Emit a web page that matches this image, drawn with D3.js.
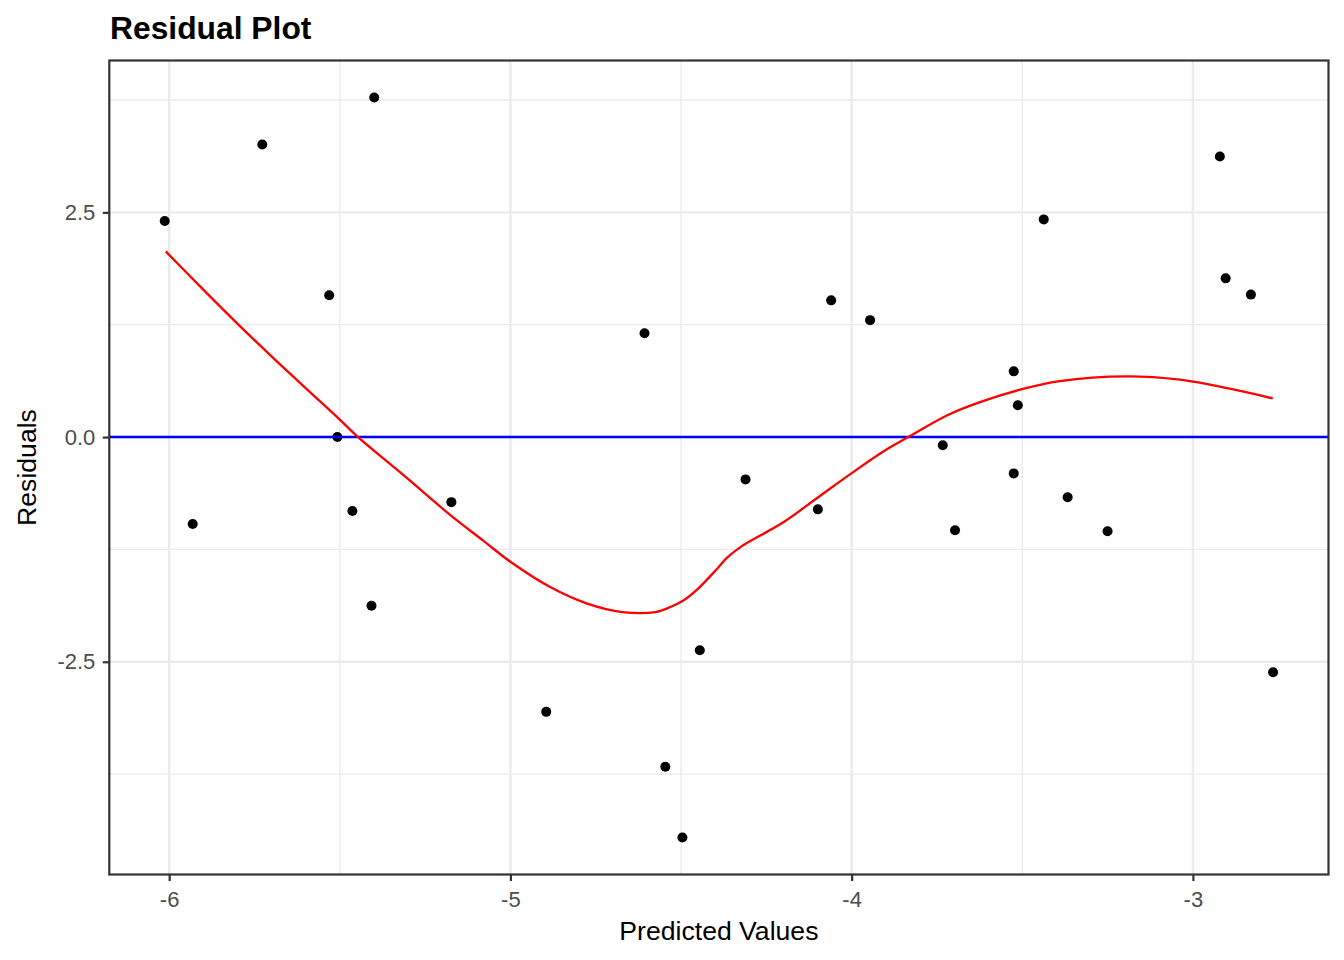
<!DOCTYPE html>
<html>
<head>
<meta charset="utf-8">
<script src="https://cdn.jsdelivr.net/npm/d3@7/dist/d3.min.js"></script>
<style>
  html, body { margin: 0; padding: 0; background: #fff; }
  svg { display: block; font-family: "Liberation Sans", Arial, sans-serif; }
</style>
</head>
<body>
<svg id="chart" width="1344" height="960"></svg>
<script>
// Predicted values (x) and residuals (y) of the points
const predicted = [-6.013, -5.931, -5.727, -5.531, -5.507, -5.463, -5.407, -5.399, -5.173, -4.895,
                   -4.607, -4.546, -4.496, -4.445, -4.311, -4.099, -4.060, -3.946, -3.733, -3.697,
                   -3.525, -3.525, -3.513, -3.437, -3.367, -3.250, -2.921, -2.904, -2.830, -2.765];
const residuals = [2.403, -0.967, 3.255, 1.578, 0.000, -0.823, -1.877, 3.778, -0.724, -3.057,
                   1.156, -3.668, -4.455, -2.372, -0.471, -0.804, 1.521, 1.301, -0.091, -1.036,
                   0.731, -0.404, 0.354, 2.422, -0.669, -1.048, 3.121, 1.766, 1.585, -2.616];

// Loess smoother
const smoothX = [-6.010, -5.900, -5.800, -5.700, -5.600, -5.500, -5.448, -5.301, -5.175,
                 -5.077, -4.999, -4.882, -4.775, -4.672, -4.575, -4.531, -4.492, -4.453, -4.394,
                 -4.365, -4.326, -4.199, -4.102, -4.004, -3.907, -3.834, -3.721, -3.624, -3.507,
                 -3.390, -3.194, -3.038, -2.892, -2.766];
const smoothY = [2.066, 1.640, 1.262, 0.898, 0.545, 0.195, 0.005, -0.463, -0.871,
                 -1.160, -1.390, -1.672, -1.853, -1.947, -1.947, -1.891, -1.816, -1.698, -1.464,
                 -1.342, -1.224, -0.945, -0.680, -0.412, -0.160, 0.000, 0.241, 0.389, 0.527,
                 0.623, 0.675, 0.638, 0.538, 0.430];

const xTicks = [-6, -5, -4, -3];
const xMinor = [-5.5, -4.5, -3.5];
const yTicks = [-2.5, 0, 2.5];
const yMinor = [-3.75, -1.25, 1.25, 3.75];
const xTickLabels = ["-6", "-5", "-4", "-3"];
const yTickLabels = ["-2.5", "0.0", "2.5"];

const titleText = "Residual Plot";
const xTitle = "Predicted Values";
const yTitle = "Residuals";

const W = 1344, H = 960;
const panel = { left: 109.3, right: 1328.5, top: 60.5, bottom: 874.5 };

function expand(ext, f) { const d = (ext[1] - ext[0]) * f; return [ext[0] - d, ext[1] + d]; }

const x = d3.scaleLinear().domain(expand(d3.extent(predicted), 0.05)).range([panel.left, panel.right]);
const y = d3.scaleLinear().domain(expand(d3.extent(residuals), 0.05)).range([panel.bottom, panel.top]);

const svg = d3.select("#chart");

svg.append("defs").append("clipPath").attr("id", "clip")
  .append("rect").attr("x", panel.left).attr("y", panel.top)
  .attr("width", panel.right - panel.left).attr("height", panel.bottom - panel.top);

svg.append("rect").attr("x", panel.left).attr("y", panel.top)
  .attr("width", panel.right - panel.left).attr("height", panel.bottom - panel.top)
  .attr("fill", "#fff");

const grid = svg.append("g");
grid.selectAll(".xm").data(xMinor).join("line")
  .attr("x1", d => x(d)).attr("x2", d => x(d)).attr("y1", panel.top).attr("y2", panel.bottom)
  .attr("stroke", "#EBEBEB").attr("stroke-width", 1.3);
grid.selectAll(".ym").data(yMinor).join("line")
  .attr("y1", d => y(d)).attr("y2", d => y(d)).attr("x1", panel.left).attr("x2", panel.right)
  .attr("stroke", "#EBEBEB").attr("stroke-width", 1.3);
grid.selectAll(".xM").data(xTicks).join("line")
  .attr("x1", d => x(d)).attr("x2", d => x(d)).attr("y1", panel.top).attr("y2", panel.bottom)
  .attr("stroke", "#EBEBEB").attr("stroke-width", 2.4);
grid.selectAll(".yM").data(yTicks).join("line")
  .attr("y1", d => y(d)).attr("y2", d => y(d)).attr("x1", panel.left).attr("x2", panel.right)
  .attr("stroke", "#EBEBEB").attr("stroke-width", 2.4);

const plot = svg.append("g").attr("clip-path", "url(#clip)");

plot.selectAll("circle").data(predicted.map((p, i) => [p, residuals[i]])).join("circle")
  .attr("cx", d => x(d[0])).attr("cy", d => y(d[1])).attr("r", 5).attr("fill", "#000");

plot.append("line")
  .attr("x1", panel.left).attr("x2", panel.right).attr("y1", y(0)).attr("y2", y(0))
  .attr("stroke", "#0000FF").attr("stroke-width", 2.4);

const line = d3.line().x(d => x(d[0])).y(d => y(d[1])).curve(d3.curveCatmullRom.alpha(0.5));
plot.append("path").datum(smoothX.map((v, i) => [v, smoothY[i]]))
  .attr("d", line).attr("fill", "none").attr("stroke", "#FF0000").attr("stroke-width", 2.3);

svg.append("rect").attr("x", panel.left).attr("y", panel.top)
  .attr("width", panel.right - panel.left).attr("height", panel.bottom - panel.top)
  .attr("fill", "none").attr("stroke", "#333333").attr("stroke-width", 2.2);

const xAxis = d3.axisBottom(x).tickValues(xTicks).tickSize(6.5).tickPadding(10)
  .tickFormat((d, i) => xTickLabels[i]);
const gx = svg.append("g").attr("transform", `translate(0,${panel.bottom})`).call(xAxis);
gx.select(".domain").remove();
gx.selectAll(".tick line").attr("stroke", "#333333").attr("stroke-width", 2.2);
gx.selectAll(".tick text").attr("fill", "#4D4D4D").style("font-size", "22px")
  .attr("font-family", "Liberation Sans, Arial, sans-serif");

const yAxis = d3.axisLeft(y).tickValues(yTicks).tickSize(6.5).tickPadding(7.5)
  .tickFormat((d, i) => yTickLabels[i]);
const gy = svg.append("g").attr("transform", `translate(${panel.left},0)`).call(yAxis);
gy.select(".domain").remove();
gy.selectAll(".tick line").attr("stroke", "#333333").attr("stroke-width", 2.2);
gy.selectAll(".tick text").attr("fill", "#4D4D4D").style("font-size", "22px")
  .attr("font-family", "Liberation Sans, Arial, sans-serif");

svg.append("text").attr("x", 110).attr("y", 39)
  .style("font-size", "31.8px").style("font-weight", "bold").attr("fill", "#000")
  .text(titleText);

svg.append("text").attr("x", (panel.left + panel.right) / 2).attr("y", 940)
  .attr("text-anchor", "middle").style("font-size", "26.6px").attr("fill", "#000")
  .text(xTitle);

svg.append("text")
  .attr("transform", `translate(36,${(panel.top + panel.bottom) / 2}) rotate(-90)`)
  .attr("text-anchor", "middle").style("font-size", "26.6px").attr("fill", "#000")
  .text(yTitle);
</script>
</body>
</html>
